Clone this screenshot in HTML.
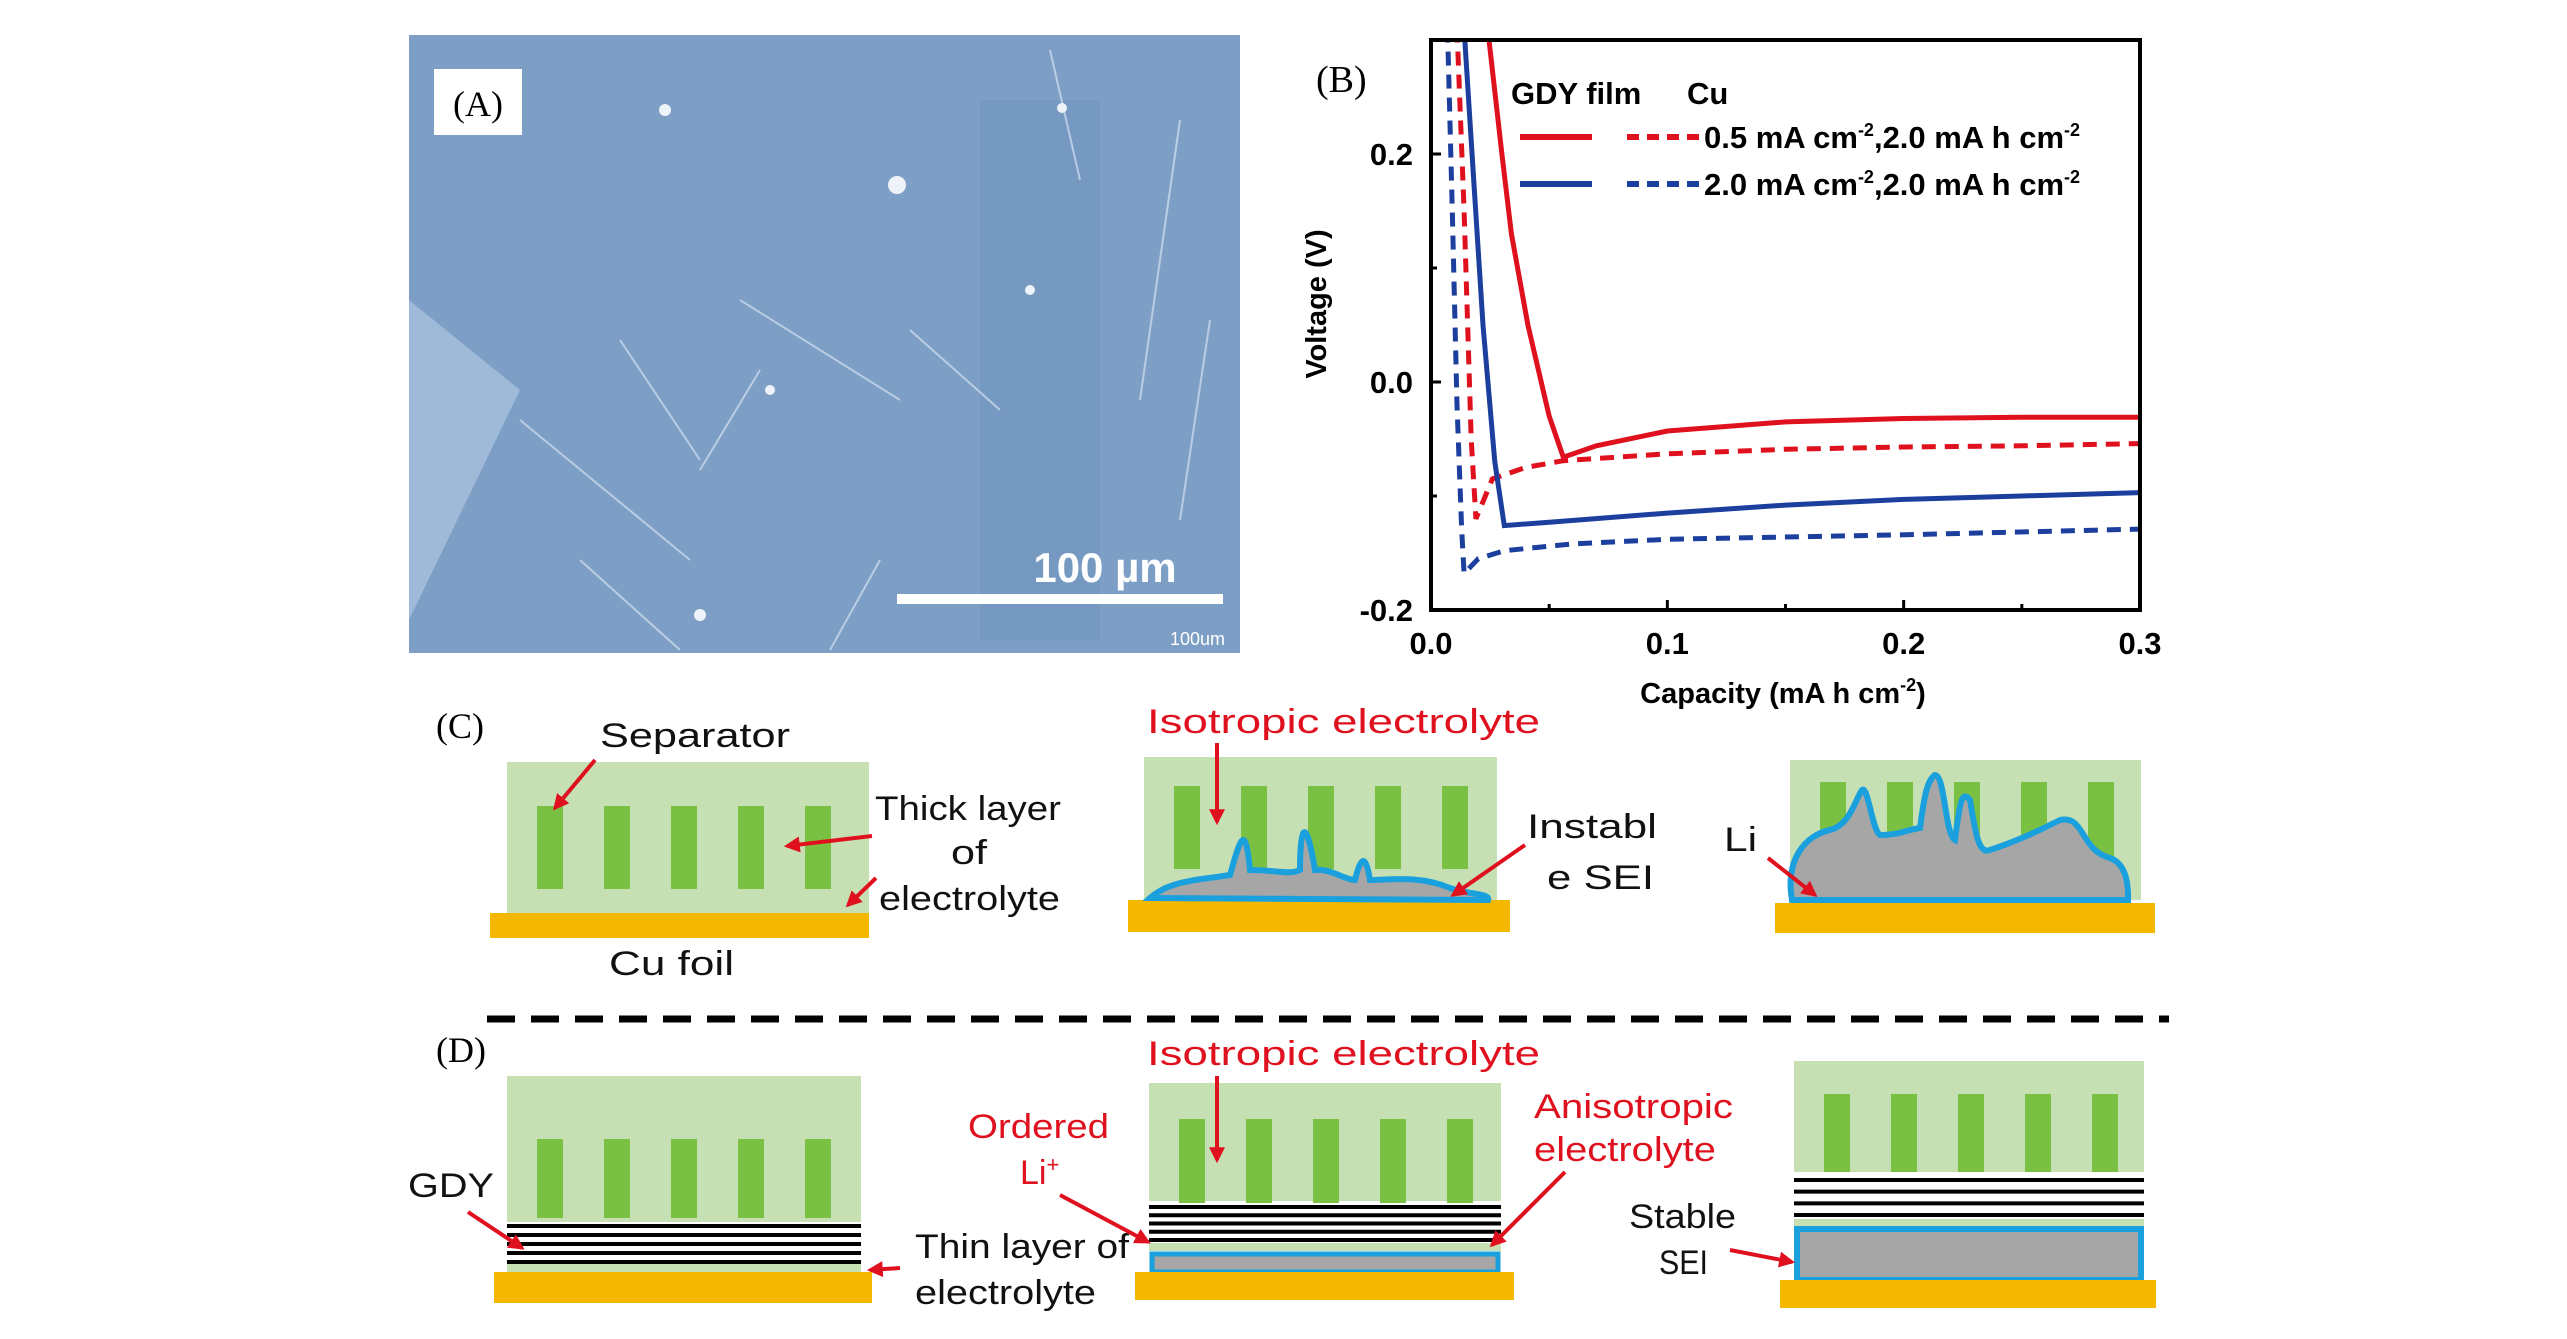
<!DOCTYPE html>
<html><head><meta charset="utf-8"><style>
html,body{margin:0;padding:0;background:#fff}
svg{display:block}
</style></head><body>
<svg width="2567" height="1339" viewBox="0 0 2567 1339" xmlns="http://www.w3.org/2000/svg">
<defs>
<marker id="ah" viewBox="0 0 10 10" refX="8" refY="5" markerWidth="4" markerHeight="4" orient="auto"><path d="M0,0L10,5L0,10z" fill="#e0111e"/></marker>
<clipPath id="plotclip"><rect x="1431" y="40" width="709" height="570"/></clipPath>
</defs>

<!-- Panel A -->
<g>
<rect x="409" y="35" width="831" height="618" fill="#7d9fc6"/>
<polygon points="409,300 520,390 409,620" fill="#a7c0dc" opacity="0.8"/>
<rect x="980" y="100" width="120" height="540" fill="#6f93bd" opacity="0.45"/>
<g stroke="#c8d8ec" stroke-width="2" opacity="0.8" fill="none">
<line x1="740" y1="300" x2="900" y2="400"/><line x1="910" y1="330" x2="1000" y2="410"/>
<line x1="520" y1="420" x2="690" y2="560"/><line x1="700" y1="470" x2="760" y2="370"/>
<line x1="1050" y1="50" x2="1080" y2="180"/><line x1="1180" y1="120" x2="1140" y2="400"/>
<line x1="580" y1="560" x2="680" y2="650"/><line x1="880" y1="560" x2="830" y2="650"/>
<line x1="1210" y1="320" x2="1180" y2="520"/><line x1="620" y1="340" x2="700" y2="460"/>
</g>
<g fill="#eef3fa"><circle cx="665" cy="110" r="6"/><circle cx="897" cy="185" r="9"/><circle cx="1062" cy="108" r="5"/><circle cx="1030" cy="290" r="5"/><circle cx="770" cy="390" r="5"/><circle cx="700" cy="615" r="6"/></g>
<rect x="434" y="69" width="88" height="66" fill="#fff"/>
<text x="478" y="116" font-family="Liberation Serif, serif" font-size="36" text-anchor="middle">(A)</text>
<text x="1105" y="582" font-family="Liberation Sans, sans-serif" font-size="42" font-weight="bold" fill="#fff" text-anchor="middle">100 µm</text>
<rect x="897" y="594" width="326" height="10" fill="#fff"/>
<text x="1225" y="645" font-family="Liberation Sans, sans-serif" font-size="18" fill="#fff" text-anchor="end">100um</text>
</g>

<!-- Panel B chart -->
<g id="chart"></g>

<!-- Panel C / D -->
<g id="schem"></g>
</svg>

<script>
// ---- Chart data ----
const xTicks = [0.0, 0.1, 0.2, 0.3];
const yTicks = [-0.2, 0.0, 0.2];
const gdy05X = [0.024, 0.030, 0.034, 0.041, 0.050, 0.056, 0.070, 0.100, 0.150, 0.200, 0.250, 0.300];
const gdy05Y = [0.31, 0.20, 0.13, 0.05, -0.03, -0.066, -0.056, -0.043, -0.035, -0.032, -0.031, -0.031];
const cu05X = [0.011, 0.014, 0.017, 0.019, 0.026, 0.040, 0.056, 0.100, 0.150, 0.200, 0.250, 0.300];
const cu05Y = [0.31, 0.15, -0.05, -0.12, -0.085, -0.075, -0.069, -0.063, -0.059, -0.057, -0.056, -0.054];
const gdy20X = [0.014, 0.018, 0.022, 0.027, 0.031, 0.050, 0.100, 0.150, 0.200, 0.250, 0.300];
const gdy20Y = [0.31, 0.18, 0.05, -0.07, -0.126, -0.123, -0.115, -0.108, -0.103, -0.100, -0.097];
const cu20X = [0.007, 0.009, 0.011, 0.013, 0.014, 0.020, 0.031, 0.060, 0.100, 0.200, 0.300];
const cu20Y = [0.31, 0.15, -0.02, -0.13, -0.168, -0.155, -0.148, -0.142, -0.138, -0.134, -0.129];

const NS = "http://www.w3.org/2000/svg";
const X0 = 1431, X1 = 2140, Y0 = 610, Y1 = 40;
const sx = v => X0 + (v - 0) / 0.3 * (X1 - X0);
const sy = v => Y0 - (v + 0.2) / 0.5 * (Y0 - Y1);
function mk(tag, attrs, parent) { const e = document.createElementNS(NS, tag); for (const k in attrs) e.setAttribute(k, attrs[k]); parent.appendChild(e); return e; }
const chart = document.getElementById('chart');

function series(xs, ys, color, dash, name) {
  const d = xs.map((x, i) => (i ? 'L' : 'M') + sx(x).toFixed(1) + ',' + sy(ys[i]).toFixed(1)).join('');
  const p = mk('path', { d: d, fill: 'none', stroke: color, 'stroke-width': 5, 'stroke-dasharray': dash, 'clip-path': 'url(#plotclip)' }, chart);
  
  
}
series(cu20X, cu20Y, '#1c3f9e', '14,9', 'series-cu-2.0');
series(cu05X, cu05Y, '#e0111e', '14,9', 'series-cu-0.5');
series(gdy20X, gdy20Y, '#1c3f9e', '', 'series-gdy-2.0');
series(gdy05X, gdy05Y, '#e0111e', '', 'series-gdy-0.5');

const frame = mk('rect', { x: X0, y: Y1, width: X1 - X0, height: Y0 - Y1, fill: 'none', stroke: '#000', 'stroke-width': 4 }, chart);



xTicks.forEach((t, i) => {
  const l = mk('line', { x1: sx(t), x2: sx(t), y1: Y0, y2: Y0 - 10, stroke: '#000', 'stroke-width': 3 }, chart);
  
  
  if (i < xTicks.length - 1) {
    const m = mk('line', { x1: sx(t + 0.05), x2: sx(t + 0.05), y1: Y0, y2: Y0 - 6, stroke: '#000', 'stroke-width': 3 }, chart);
    
    
  }
  const tx = mk('text', { x: sx(t), y: Y0 + 44, 'text-anchor': 'middle', 'font-family': 'Liberation Sans, sans-serif', 'font-size': 31, 'font-weight': 'bold' }, chart);
  tx.textContent = t.toFixed(1);
  
  
});
yTicks.forEach((t, i) => {
  const l = mk('line', { x1: X0, x2: X0 + 10, y1: sy(t), y2: sy(t), stroke: '#000', 'stroke-width': 3 }, chart);
  
  
  const m = mk('line', { x1: X0, x2: X0 + 6, y1: sy(t + 0.1), y2: sy(t + 0.1), stroke: '#000', 'stroke-width': 3 }, chart);
  
  
  const tx = mk('text', { x: X0 - 18, y: sy(t) + 11, 'text-anchor': 'end', 'font-family': 'Liberation Sans, sans-serif', 'font-size': 31, 'font-weight': 'bold' }, chart);
  tx.textContent = t.toFixed(1);
  
  
});
</script>
<script>
(function(){
const chart = document.getElementById('chart');
chart.insertAdjacentHTML('beforeend', `
<text x="1783" y="703" text-anchor="middle" font-family="Liberation Sans, sans-serif" font-size="29" font-weight="bold">Capacity (mA h cm<tspan dy="-12" font-size="18">-2</tspan><tspan dy="12">)</tspan></text>
<text transform="translate(1326,304) rotate(-90)" text-anchor="middle" font-family="Liberation Sans, sans-serif" font-size="29" font-weight="bold">Voltage (V)</text>
<text x="1316" y="92" font-family="Liberation Serif, serif" font-size="38">(B)</text>
<text x="1511" y="104" font-family="Liberation Sans, sans-serif" font-size="31" font-weight="bold">GDY film</text>
<text x="1687" y="104" font-family="Liberation Sans, sans-serif" font-size="31" font-weight="bold">Cu</text>
<line x1="1520" y1="137" x2="1592" y2="137" stroke="#e0111e" stroke-width="6"/>
<line x1="1627" y1="137" x2="1699" y2="137" stroke="#e0111e" stroke-width="6" stroke-dasharray="12,8"/>
<text x="1704" y="148" font-family="Liberation Sans, sans-serif" font-size="31" font-weight="bold">0.5 mA cm<tspan dy="-12" font-size="18">-2</tspan><tspan dy="12">,2.0 mA h cm</tspan><tspan dy="-12" font-size="18">-2</tspan></text>
<line x1="1520" y1="184" x2="1592" y2="184" stroke="#1c3f9e" stroke-width="6"/>
<line x1="1627" y1="184" x2="1699" y2="184" stroke="#1c3f9e" stroke-width="6" stroke-dasharray="12,8"/>
<text x="1704" y="195" font-family="Liberation Sans, sans-serif" font-size="31" font-weight="bold">2.0 mA cm<tspan dy="-12" font-size="18">-2</tspan><tspan dy="12">,2.0 mA h cm</tspan><tspan dy="-12" font-size="18">-2</tspan></text>
`);

const S = document.getElementById('schem');
const G='#c6e0b4', B='#7ac143', F='#f5b800', BL='#1aa0dc', GR='#a6a6a6', R='#e0111e';
let h='';
function cell(x, y, w, hgt, barTop, barBot, name){
  let s=`<g><rect x="${x}" y="${y}" width="${w}" height="${hgt}" fill="${G}"/>`;
  for(let i=0;i<5;i++) s+=`<rect x="${x+30+i*67}" y="${barTop}" width="26" height="${barBot-barTop}" fill="${B}"/>`;
  return s+'</g>';
}
function foil(x,y,w,hh,name){return `<rect x="${x}" y="${y}" width="${w}" height="${hh}" fill="${F}"/>`;}
function lines(x,w,y0,y1,n,name){let s=`<g><rect x="${x}" y="${y0-4}" width="${w}" height="${y1-y0+8}" fill="#fff"/>`;for(let i=0;i<n;i++){const y=y0+i*(y1-y0)/(n-1);s+=`<line x1="${x}" x2="${x+w}" y1="${y}" y2="${y}" stroke="#000" stroke-width="4"/>`;}return s+'</g>';}
function arrow(x1,y1,x2,y2,name){return `<line x1="${x1}" y1="${y1}" x2="${x2}" y2="${y2}" stroke="${R}" stroke-width="4" marker-end="url(#ah)"/>`;}
function txt(x,y,s,color,w,name,size){return `<text x="${x}" y="${y}" font-family="Liberation Sans, sans-serif" font-size="${size||34}" fill="${color}" textLength="${w}" lengthAdjust="spacingAndGlyphs">${s}</text>`;}

// C row
h+=`<text x="436" y="738" font-family="Liberation Serif, serif" font-size="36">(C)</text>`;
h+=cell(507,762,362,151,806,889,'separator-c1')+foil(490,913,379,25,'cu-foil-c1');
h+=txt(600,747,'Separator','#111',190,'separator-label');
h+=arrow(595,760,555,808,'separator-arrow');
h+=txt(875,820,'Thick layer','#111',186,'thick-layer-label');
h+=txt(951,864,'of','#111',36,'of-label');
h+=txt(879,910,'electrolyte','#111',181,'electrolyte-label-c');
h+=arrow(872,836,787,846,'thick-layer-arrow');
h+=arrow(876,878,848,905,'electrolyte-arrow-c');
h+=txt(609,975,'Cu foil','#111',125,'cu-foil-label');

h+=cell(1144,757,353,143,786,869,'separator-c2')+foil(1128,900,382,32,'cu-foil-c2');
h+=`<path d="M1150,898 C1170,880 1200,880 1230,875 C1240,840 1245,820 1250,870 C1275,870 1290,875 1300,870 C1300,830 1305,810 1315,870 C1330,868 1345,880 1355,880 C1360,860 1365,850 1370,880 C1390,880 1420,875 1450,888 C1470,895 1490,893 1488,900 Z" fill="${GR}" stroke="${BL}" stroke-width="6"/>`;
h+=txt(1147,733,'Isotropic electrolyte',R,393,'isotropic-electrolyte-label-c');
h+=arrow(1217,743,1217,822,'isotropic-arrow-c');
h+=txt(1527,838,'Instabl','#111',130,'instable-label');
h+=txt(1547,889,'e SEI','#111',107,'sei-label-c');
h+=arrow(1525,845,1453,895,'sei-arrow-c');

h+=cell(1790,760,351,140,782,859,'separator-c3')+foil(1775,903,380,30,'cu-foil-c3');
h+=`<path d="M1792,900 C1785,860 1805,835 1830,830 C1850,825 1855,800 1862,790 C1868,785 1872,830 1880,835 C1900,835 1905,830 1920,828 C1925,790 1928,780 1935,775 C1945,775 1945,835 1955,840 C1960,800 1962,790 1970,800 C1975,830 1978,855 1990,850 C2020,840 2040,830 2060,820 C2085,815 2080,850 2110,858 C2130,865 2128,895 2128,900 Z" fill="${GR}" stroke="${BL}" stroke-width="6"/>`;
h+=txt(1724,851,'Li','#111',33,'li-label');
h+=arrow(1768,858,1815,895,'li-arrow');

// dashed divider
h+=`<line x1="487" y1="1019" x2="2169" y2="1019" stroke="#000" stroke-width="7" stroke-dasharray="28,16"/>`;

// D row
h+=`<text x="436" y="1062" font-family="Liberation Serif, serif" font-size="36">(D)</text>`;
h+=cell(507,1076,354,150,1139,1218,'separator-d1');
h+=lines(507,354,1226,1262,5,'gdy-layers-d1');
h+=`<rect x="507" y="1264" width="354" height="8" fill="${G}"/>`;
h+=foil(494,1272,378,31,'cu-foil-d1');
h+=txt(408,1197,'GDY','#111',86,'gdy-label');
h+=arrow(468,1212,522,1248,'gdy-arrow');
h+=txt(915,1258,'Thin layer of','#111',214,'thin-layer-label');
h+=txt(915,1304,'electrolyte','#111',181,'electrolyte-label-d');
h+=arrow(900,1268,870,1270,'thin-layer-arrow');

h+=cell(1149,1083,352,118,1119,1214,'separator-d2');
h+=lines(1149,352,1207,1240,5,'gdy-layers-d2');
h+=`<rect x="1149" y="1243" width="352" height="8" fill="${G}"/>`;
h+=`<rect x="1152" y="1254" width="346" height="18" fill="${GR}" stroke="${BL}" stroke-width="5"/>`;
h+=foil(1135,1272,379,28,'cu-foil-d2');
h+=txt(1147,1065,'Isotropic electrolyte',R,393,'isotropic-electrolyte-label-d');
h+=arrow(1217,1076,1217,1160,'isotropic-arrow-d');
h+=txt(968,1138,'Ordered',R,141,'ordered-label');
h+=`<text x="1020" y="1184" font-family="Liberation Sans, sans-serif" font-size="34" fill="${R}">Li<tspan dy="-12" font-size="22">+</tspan></text>`;
h+=arrow(1060,1195,1148,1242,'ordered-arrow');
h+=txt(1534,1118,'Anisotropic',R,199,'anisotropic-label');
h+=txt(1534,1161,'electrolyte',R,182,'anisotropic-electrolyte-label');
h+=arrow(1565,1172,1492,1245,'anisotropic-arrow');

h+=cell(1794,1061,350,111,1094,1172,'separator-d3');
h+=lines(1794,350,1180,1215,4,'gdy-layers-d3');
h+=`<rect x="1794" y="1219" width="350" height="7" fill="${G}"/>`;
h+=`<rect x="1797" y="1229" width="344" height="51" fill="${GR}" stroke="${BL}" stroke-width="6"/>`;
h+=foil(1780,1280,376,28,'cu-foil-d3');
h+=txt(1629,1228,'Stable','#111',107,'stable-label');
h+=txt(1659,1274,'SEI','#111',49,'sei-label-d');
h+=arrow(1730,1250,1792,1262,'stable-sei-arrow');
S.innerHTML=h;
})();
</script>
</body></html>
